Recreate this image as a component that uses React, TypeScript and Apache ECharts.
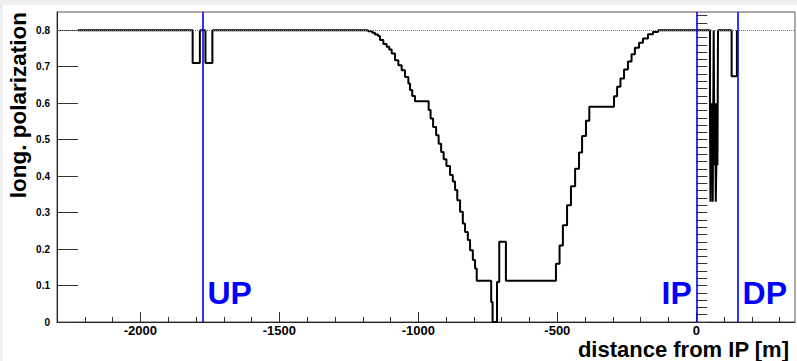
import React, { useEffect, useRef } from 'react';
import * as echarts from 'echarts';

// Curve: each point holds its value from its x until the next point's x (step "end")
const curveX = [
  -2225, -1812, -1786, -1766, -1741,
  -1181, -1166, -1156, -1145, -1138, -1126, -1114, -1105, -1096, -1084, -1072, -1060, -1048, -1036, -1030, -1022, -1012,
  -963, -956, -947, -936, -927, -918, -909, -899, -886, -876, -868, -860, -850, -840, -832, -822, -814, -804, -796, -790,
  -738, -733, -717, -709, -685,
  -505, -492, -480, -465, -451, -436, -422, -411, -397, -385,
  -296, -285, -273, -260, -246, -233, -221, -206, -192, -174, -156, -138,
  49, 51, 53, 55, 57, 59, 61, 62.5, 64, 66, 68, 70, 72, 74, 76, 78,
  127, 146,
];
const curveY = [
  0.80, 0.71, 0.80, 0.71, 0.80,
  0.797, 0.793, 0.788, 0.784, 0.773, 0.762, 0.755, 0.747, 0.736, 0.718, 0.704, 0.690, 0.672, 0.654, 0.636, 0.620, 0.605,
  0.581, 0.558, 0.535, 0.512, 0.489, 0.466, 0.446, 0.428, 0.403, 0.385, 0.362, 0.334, 0.302, 0.270, 0.247, 0.225, 0.197, 0.170, 0.147, 0.113,
  0.055, 0.0, 0.11, 0.22, 0.113,
  0.160, 0.210, 0.265, 0.320, 0.372, 0.420, 0.465, 0.510, 0.552, 0.590,
  0.619, 0.645, 0.668, 0.692, 0.714, 0.734, 0.752, 0.766, 0.777, 0.789, 0.795, 0.80,
  0.60, 0.33, 0.60, 0.43, 0.60, 0.33, 0.60, 0.80, 0.60, 0.43, 0.60, 0.33, 0.43, 0.60, 0.43, 0.80,
  0.674, 0.80,
];

const markerX = [-1775, 0, 150];
const markerNames = ['UP', 'IP', 'DP'];
const markerSide = ['right', 'left', 'right'];
const refLevel = 0.8;

const xLabelValues = [-2000, -1500, -1000, -500, 0];
const yLabelValues = [0, 0.1, 0.2, 0.3, 0.4, 0.5, 0.6, 0.7, 0.8];
const xMin = -2300;
const xMax = 355;
const yMin = 0;
const yMax = 0.85;

const FONT = 'Liberation Sans';

export default function App() {
  const ref = useRef<HTMLDivElement>(null);
  useEffect(() => {
    document.body.style.margin = '0';
    const chart = echarts.init(ref.current!, null, { renderer: 'svg' });
    const xMinor: number[] = [];
    for (let v = -2200; v <= 300; v += 100) xMinor.push(v);
    const yMinor: number[] = [];
    for (let k = 0; k <= 42; k++) yMinor.push(+(k * 0.02).toFixed(2));

    const data = curveX.map((x, i) => [x, curveY[i]]);

    chart.setOption({
      animation: false,
      grid: {
        left: 57, top: 12, width: 738, height: 310,
        show: true, borderColor: '#555', borderWidth: 1, backgroundColor: '#fff',
      },
      xAxis: [
        {
          type: 'value', min: xMin, max: xMax, position: 'bottom',
          axisLine: { show: true, onZero: false, lineStyle: { color: '#222', width: 1 } },
          axisTick: { show: true, inside: true, length: 10, customValues: xLabelValues, lineStyle: { color: '#333' } },
          axisLabel: {
            show: true, customValues: xLabelValues, fontFamily: FONT, fontWeight: 'bold', fontSize: 13,
            color: '#000', margin: 2, formatter: (v: number) => String(v),
          },
          splitLine: { show: false },
        },
        {
          type: 'value', min: xMin, max: xMax, position: 'bottom',
          axisLine: { show: false },
          axisTick: { show: true, inside: true, length: 5, customValues: xMinor, lineStyle: { color: '#333' } },
          axisLabel: { show: false },
          splitLine: { show: false },
        },
      ],
      yAxis: [
        {
          type: 'value', min: yMin, max: yMax, position: 'left',
          axisLine: { show: true, onZero: false, lineStyle: { color: '#222', width: 1 } },
          axisTick: { show: true, inside: true, length: 21, customValues: yLabelValues, lineStyle: { color: '#333' } },
          axisLabel: {
            show: true, customValues: yLabelValues, fontFamily: FONT, fontWeight: 'bold', fontSize: 10,
            color: '#000', margin: 7, formatter: (v: number) => (v === 0 ? '0' : v.toFixed(1)),
          },
          splitLine: { show: false },
        },
        {
          type: 'value', min: yMin, max: yMax, position: 'left',
          axisLine: { show: false },
          axisTick: { show: true, inside: true, length: 11, customValues: yMinor, lineStyle: { color: '#333' } },
          axisLabel: { show: false },
          splitLine: { show: false },
        },
      ],
      series: [
        {
          type: 'line', data: [], xAxisIndex: 0, yAxisIndex: 0, z: 1, silent: true,
          markLine: {
            silent: true, symbol: ['none', 'none'], label: { show: false },
            lineStyle: { color: '#777', width: 1, type: [1, 1] },
            data: [{ yAxis: refLevel }],
          },
        },
        {
          type: 'line', data, step: 'end', xAxisIndex: 0, yAxisIndex: 0, z: 3,
          showSymbol: false, symbol: 'none', silent: true,
          lineStyle: { color: '#000', width: 2 },
          markLine: {
            silent: true, symbol: ['none', 'none'], label: { show: false },
            lineStyle: { color: '#0000ff', width: 1.6, type: 'solid' },
            data: markerX.map((v) => ({ xAxis: v })),
          },
        },
      ],
    });

    const graphics: any[] = [
      { type: 'rect', shape: { x: 0, y: 0, width: 797, height: 5 }, style: { fill: '#f0f0f0' }, z: -10, silent: true },
      { type: 'rect', shape: { x: 0, y: 0, width: 3, height: 361 }, style: { fill: '#f0f0f0' }, z: -10, silent: true },
      {
        type: 'text', x: 18.5, y: 12, rotation: Math.PI / 2, silent: true,
        style: { text: 'long. polarization', fontFamily: FONT, fontWeight: 'bold', fontSize: 22.5, fill: '#000', textAlign: 'right', textVerticalAlign: 'middle' },
      },
      {
        type: 'text', x: 789, y: 349, silent: true,
        style: { text: 'distance from IP [m]', fontFamily: FONT, fontWeight: 'bold', fontSize: 22, fill: '#000', textAlign: 'right', textVerticalAlign: 'middle' },
      },
    ];
    markerX.forEach((v, i) => {
      const p = chart.convertToPixel({ xAxisIndex: 0, yAxisIndex: 0 }, [v, 0]) as number[];
      const right = markerSide[i] === 'right';
      graphics.push({
        type: 'text', x: right ? p[0] + 4.5 : p[0] - 4.5, y: 293, silent: true, z: 10,
        style: { text: markerNames[i], fontFamily: FONT, fontWeight: 'bold', fontSize: 32, fill: '#0000ff', textAlign: right ? 'left' : 'right', textVerticalAlign: 'middle' },
      });
    });
    chart.setOption({ graphic: graphics });

    return () => chart.dispose();
  }, []);
  return <div ref={ref} style={{ width: 797, height: 361, background: '#fff' }} />;
}
